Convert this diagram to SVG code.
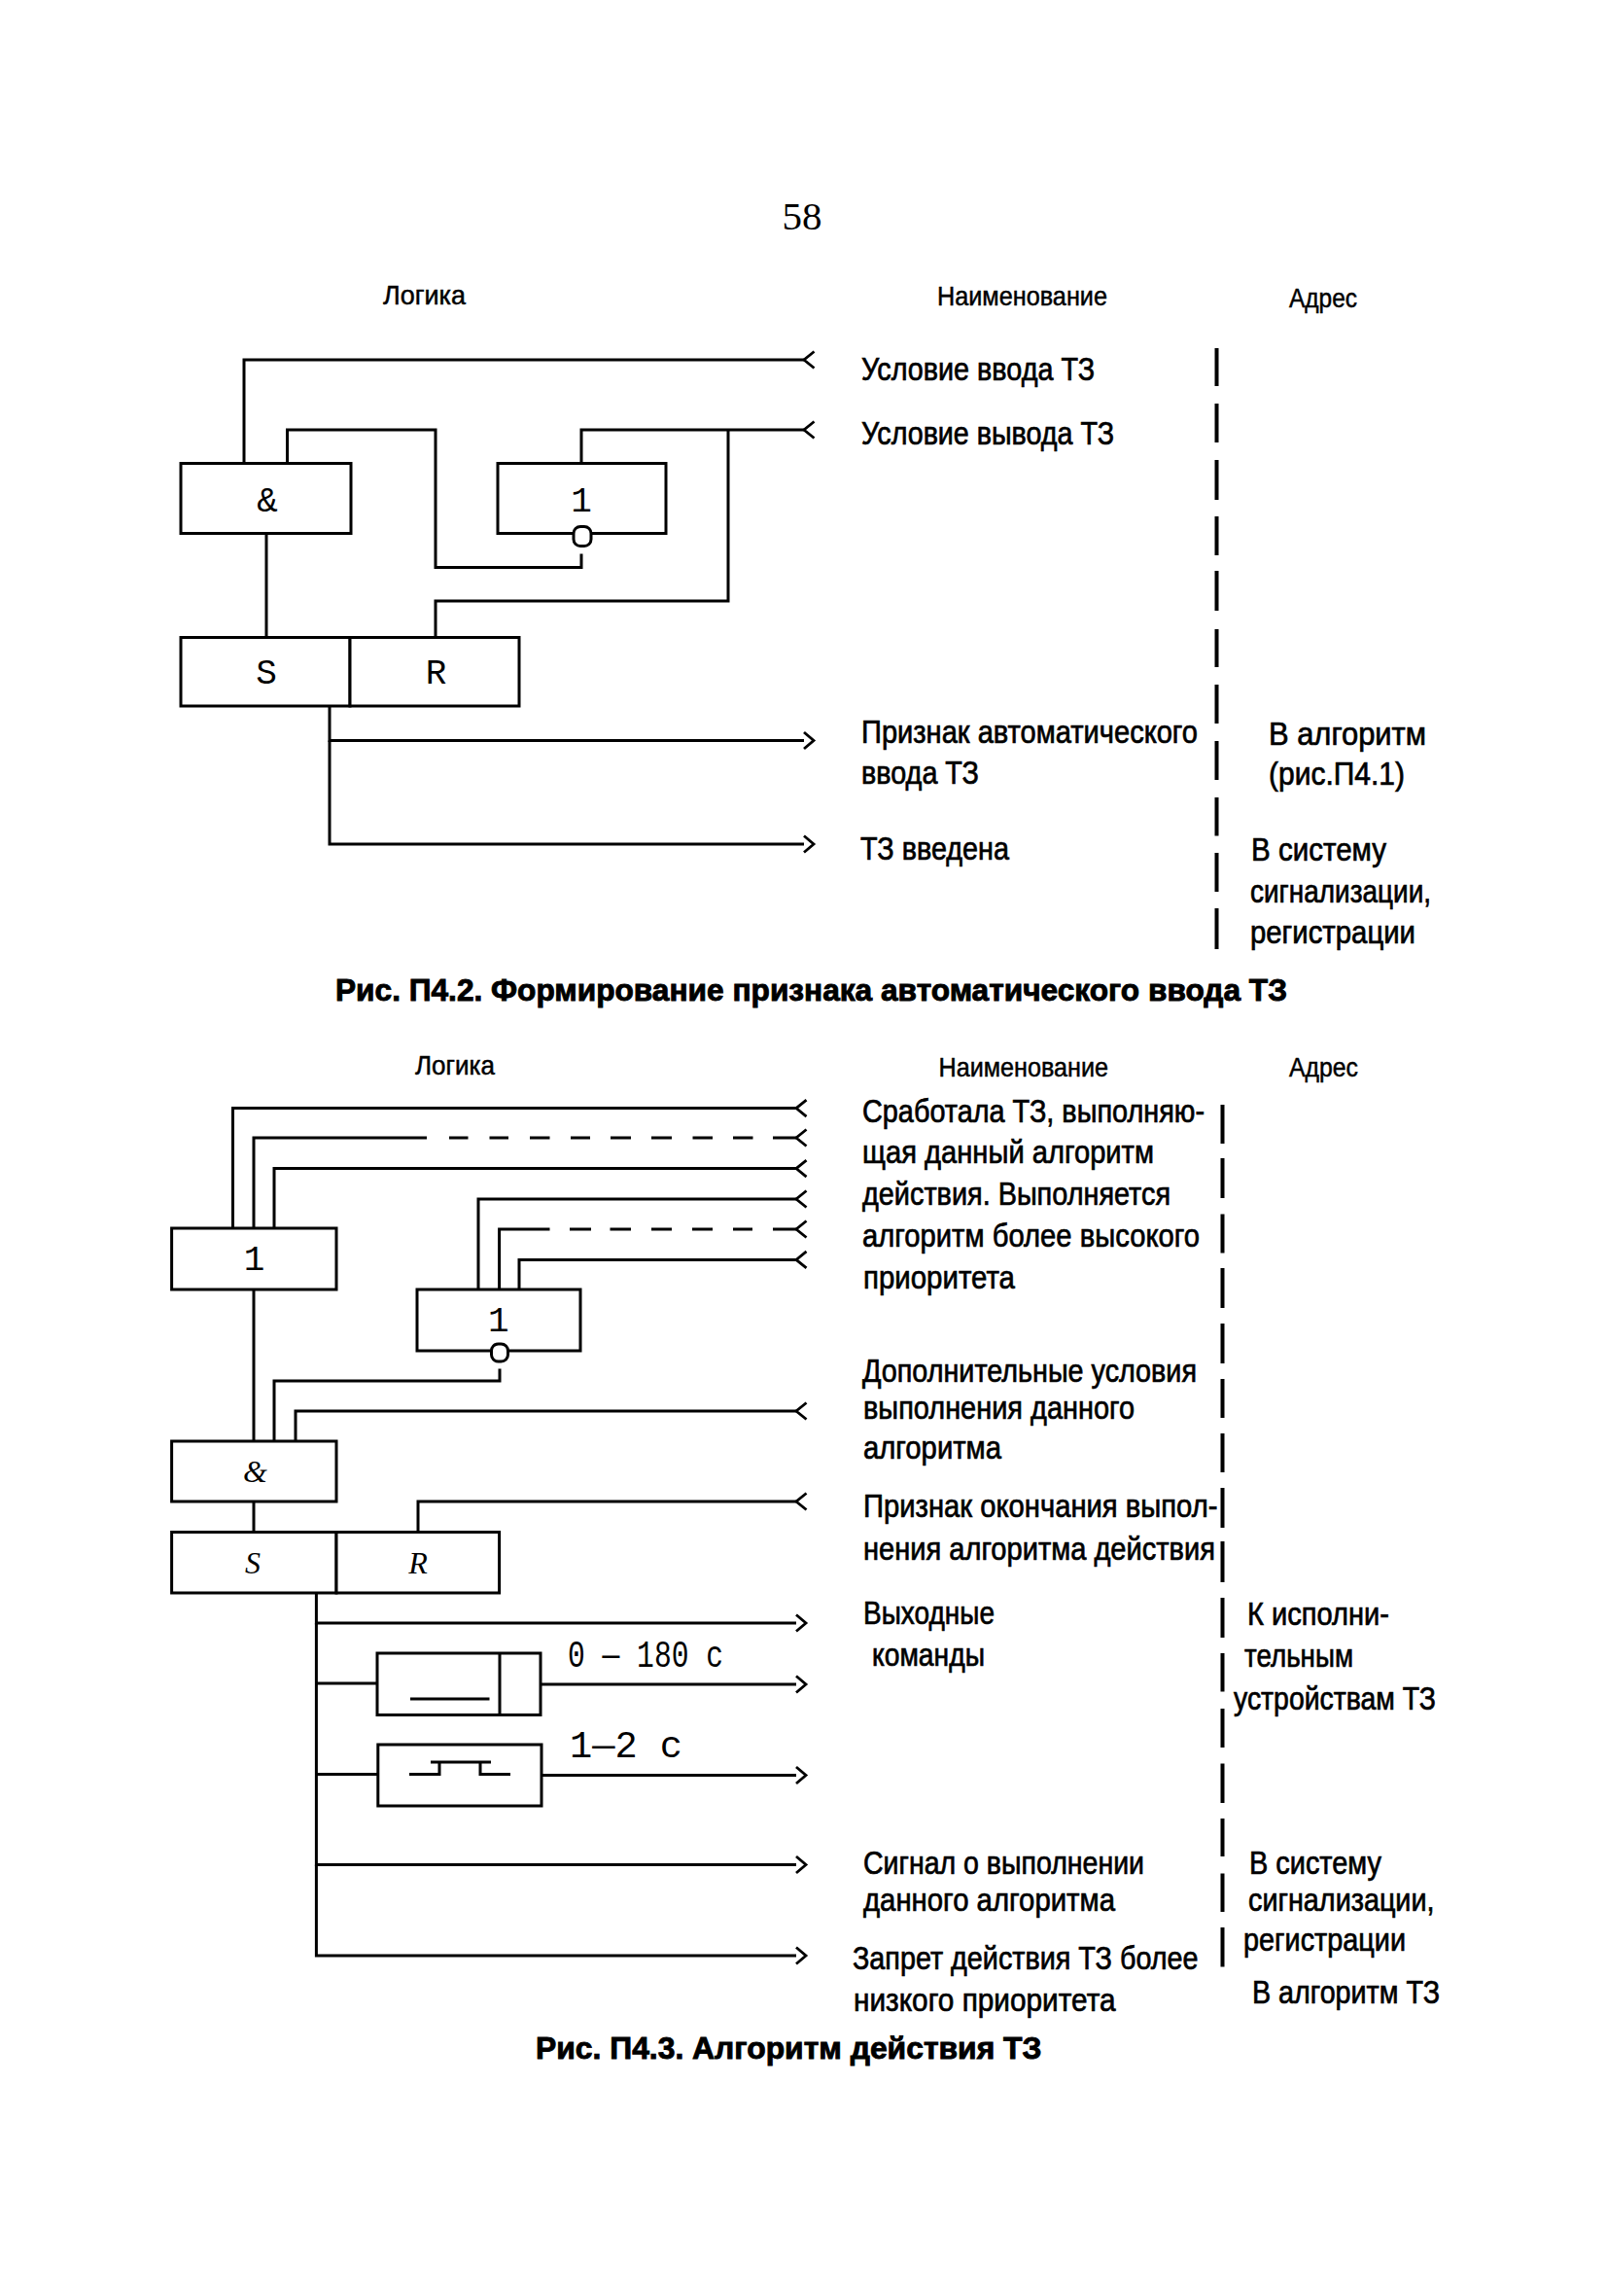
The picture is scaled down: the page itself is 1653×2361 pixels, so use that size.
<svg xmlns="http://www.w3.org/2000/svg" width="1653" height="2361" viewBox="0 0 1653 2361">
<style>
text{fill:#000;font-family:"Liberation Sans",Arial,sans-serif;font-size:33px;stroke:#000;stroke-width:.7px}
.h{font-size:28px;stroke-width:.5px}
.cap{font-weight:700;font-size:32px;stroke-width:.9px}
.pg{font-family:"Liberation Serif",serif;font-size:41px;stroke:none}
.m{font-family:"Liberation Mono",monospace;font-size:36px;text-anchor:middle;stroke:none}
.t{font-family:"Liberation Mono",monospace;font-size:38px;stroke:none}
.i{font-family:"Liberation Serif",serif;font-style:italic;font-size:32px;text-anchor:middle;stroke:none}
.b{fill:#fff;stroke:#000;stroke-width:3}
.l{fill:none;stroke:#000;stroke-width:3}
.in{marker-end:url(#in)}
.out{marker-end:url(#out)}
.v{fill:none;stroke:#000;stroke-width:4}
</style>
<defs>
<marker id="in" markerUnits="userSpaceOnUse" markerWidth="14" markerHeight="22" refX="1" refY="11" orient="auto"><path d="M11.500 2.500L1 11L11.500 19.500" fill="none" stroke="#000" stroke-width="2.800"/></marker>
<marker id="out" markerUnits="userSpaceOnUse" markerWidth="14" markerHeight="22" refX="1" refY="11" orient="auto"><path d="M1 2.500L11 11L1 19.500" fill="none" stroke="#000" stroke-width="2.800"/></marker>
</defs>
<rect width="1653" height="2361" fill="#fff"/>
<text class="pg" x="804.500" y="235.500" textLength="41">58</text>

<g id="connectors">
<g id="connectors-fig2">
<path class="l in" d="M251 476V370H827"/>
<path class="l" d="M295.500 476V442H448V583.500H598V569.500"/>
<path class="l in" d="M598 476V442H827"/>
<path class="l" d="M274 548V655.500"/>
<path class="l" d="M448 655.500V618H749V442"/>
<path class="l out" d="M339 726V761.500H827"/>
<path class="l out" d="M339 761.500V868H827"/>
</g>
<g id="connectors-fig3">
<path class="l in" d="M239.500 1263V1139.600H819"/>
<path class="l" d="M261 1263V1170H439"/>
<path class="l in" d="M462 1170H481.500M503.500 1170H523M545 1170H565.500M587 1170H607M628 1170H649M670 1170H691M712.500 1170H733M754 1170H774.500M795 1170H819"/>
<path class="l in" d="M282 1263V1201.600H819"/>
<path class="l in" d="M492 1326V1233H819"/>
<path class="l" d="M513.600 1326V1264H565.500"/>
<path class="l in" d="M586 1264H608M627.500 1264H649M670 1264H691M712 1264H733M754 1264H774M795 1264H819"/>
<path class="l in" d="M534 1326V1295.400H819"/>
<path class="l" d="M261 1326V1482"/>
<path class="l" d="M514 1407.500V1420H282V1482"/>
<path class="l in" d="M304 1482V1451H819"/>
<path class="l" d="M261 1544V1575.500"/>
<path class="l in" d="M430 1575.500V1544H819"/>
<path class="l out" d="M325.400 1638V1669H819"/>
<path class="l" d="M325.400 1731H388"/>
<path class="l out" d="M556 1732H819"/>
<path class="l" d="M325.400 1824.500H389"/>
<path class="l out" d="M557 1825.500H819"/>
<path class="l out" d="M325.400 1669V1917.500H819"/>
<path class="l out" d="M325.400 1917.500V2011H819"/>
</g>
</g>

<g id="fig2-and"><rect class="b" x="186" y="476.500" width="175" height="72"/><text class="m" x="275" y="526">&amp;</text></g>
<g id="fig2-or"><rect class="b" x="512" y="476.500" width="173" height="72"/><text class="m" x="598" y="526">1</text><rect class="b" x="590" y="541.500" width="18" height="20" rx="7"/></g>
<g id="fig2-s"><rect class="b" x="186" y="655.500" width="174" height="70.500"/><text class="m" x="274" y="703">S</text></g>
<g id="fig2-r"><rect class="b" x="360" y="655.500" width="174" height="70.500"/><text class="m" x="448.500" y="703">R</text></g>

<g id="fig3-or1"><rect class="b" x="176.600" y="1263" width="169.400" height="63"/><text class="m" x="261.500" y="1306">1</text></g>
<g id="fig3-or2"><rect class="b" x="429" y="1326" width="168" height="63"/><text class="m" x="512.700" y="1369">1</text><rect class="b" x="505.500" y="1382" width="17" height="18" rx="7"/></g>
<g id="fig3-and"><rect class="b" x="176.600" y="1482" width="169.400" height="62"/><text class="i" x="262.500" y="1524">&amp;</text></g>
<g id="fig3-s"><rect class="b" x="176.600" y="1575.500" width="169.400" height="62.500"/><text class="i" x="260" y="1617.500">S</text></g>
<g id="fig3-r"><rect class="b" x="346" y="1575.500" width="167.600" height="62.500"/><text class="i" x="430" y="1617.500">R</text></g>
<g id="fig3-delay"><rect class="b" x="388" y="1700" width="168" height="63.500"/><path class="l" d="M514 1700V1763.500M422 1747H503.500"/><text class="t" x="584" y="1713.500" textLength="160" lengthAdjust="spacingAndGlyphs">0 — 180 с</text></g>
<g id="fig3-pulse"><rect class="b" x="388.800" y="1794" width="168.200" height="63"/><path class="l" d="M421 1824.500H452V1812M443 1812H505M494 1812V1824.500H525"/><text class="t" x="586" y="1806.500" textLength="116" lengthAdjust="spacingAndGlyphs">1—2 с</text></g>

<g id="fig2-labels" transform="translate(0 -1)">
<text class="h" x="394" y="313.500" textLength="85" lengthAdjust="spacingAndGlyphs">Логика</text>
<text class="h" x="964" y="315" textLength="175" lengthAdjust="spacingAndGlyphs">Наименование</text>
<text class="h" x="1326" y="317" textLength="70" lengthAdjust="spacingAndGlyphs">Адрес</text>
<text x="886" y="392" textLength="240" lengthAdjust="spacingAndGlyphs">Условие ввода ТЗ</text>
<text x="886" y="458" textLength="260" lengthAdjust="spacingAndGlyphs">Условие вывода ТЗ</text>
<text x="886" y="765" textLength="346" lengthAdjust="spacingAndGlyphs">Признак автоматического</text>
<text x="886" y="807" textLength="121" lengthAdjust="spacingAndGlyphs">ввода ТЗ</text>
<text x="885" y="884.500" textLength="153" lengthAdjust="spacingAndGlyphs">ТЗ введена</text>
<text x="1305" y="766.500" textLength="162" lengthAdjust="spacingAndGlyphs">В  алгоритм</text>
<text x="1305" y="808" textLength="140" lengthAdjust="spacingAndGlyphs">(рис.П4.1)</text>
<text x="1287" y="886" textLength="139" lengthAdjust="spacingAndGlyphs">В систему</text>
<text x="1286" y="929" textLength="186" lengthAdjust="spacingAndGlyphs">сигнализации,</text>
<text x="1286" y="971" textLength="170" lengthAdjust="spacingAndGlyphs">регистрации</text>
<text class="cap" x="345" y="1030" textLength="979" lengthAdjust="spacingAndGlyphs">Рис. П4.2. Формирование признака автоматического ввода ТЗ</text>
</g>
<path id="fig2-column-rule" class="v" d="M1251.500 358V397M1251.500 415V455M1251.500 473V514M1251.500 531V571M1251.500 587V628M1251.500 647V686M1251.500 704V744M1251.500 762V802M1251.500 820V859.500M1251.500 877V917M1251.500 934V976"/>

<g id="fig3-labels" transform="translate(-1 0)">
<text class="h" x="428" y="1105" textLength="82" lengthAdjust="spacingAndGlyphs">Логика</text>
<text class="h" x="966.500" y="1106.500" textLength="174.500" lengthAdjust="spacingAndGlyphs">Наименование</text>
<text class="h" x="1327" y="1107" textLength="71" lengthAdjust="spacingAndGlyphs">Адрес</text>
<text x="888" y="1153.500" textLength="352" lengthAdjust="spacingAndGlyphs">Сработала ТЗ, выполняю-</text>
<text x="888" y="1196" textLength="300" lengthAdjust="spacingAndGlyphs">щая данный алгоритм</text>
<text x="888" y="1239" textLength="317" lengthAdjust="spacingAndGlyphs">действия. Выполняется</text>
<text x="888" y="1282" textLength="347" lengthAdjust="spacingAndGlyphs">алгоритм более высокого</text>
<text x="889" y="1325" textLength="156" lengthAdjust="spacingAndGlyphs">приоритета</text>
<text x="888" y="1421" textLength="344" lengthAdjust="spacingAndGlyphs">Дополнительные условия</text>
<text x="889" y="1459" textLength="279" lengthAdjust="spacingAndGlyphs">выполнения данного</text>
<text x="889" y="1500" textLength="142" lengthAdjust="spacingAndGlyphs">алгоритма</text>
<text x="889" y="1560" textLength="364.500" lengthAdjust="spacingAndGlyphs">Признак окончания выпол-</text>
<text x="889" y="1603.500" textLength="362" lengthAdjust="spacingAndGlyphs">нения алгоритма действия</text>
<text x="889" y="1670" textLength="135" lengthAdjust="spacingAndGlyphs">Выходные</text>
<text x="898" y="1713" textLength="116" lengthAdjust="spacingAndGlyphs">команды</text>
<text x="1284" y="1670.500" textLength="146" lengthAdjust="spacingAndGlyphs">К исполни-</text>
<text x="1281" y="1714" textLength="112" lengthAdjust="spacingAndGlyphs">тельным</text>
<text x="1270" y="1757.500" textLength="208" lengthAdjust="spacingAndGlyphs">устройствам ТЗ</text>
<text x="889" y="1927" textLength="289" lengthAdjust="spacingAndGlyphs">Сигнал о выполнении</text>
<text x="889" y="1965" textLength="259" lengthAdjust="spacingAndGlyphs">данного алгоритма</text>
<text x="878" y="2025" textLength="355.500" lengthAdjust="spacingAndGlyphs">Запрет действия ТЗ более</text>
<text x="879" y="2068" textLength="269.500" lengthAdjust="spacingAndGlyphs">низкого приоритета</text>
<text x="1286" y="1927" textLength="136" lengthAdjust="spacingAndGlyphs">В систему</text>
<text x="1285" y="1965" textLength="191.500" lengthAdjust="spacingAndGlyphs">сигнализации,</text>
<text x="1280" y="2006" textLength="167" lengthAdjust="spacingAndGlyphs">регистрации</text>
<text x="1289" y="2060" textLength="193" lengthAdjust="spacingAndGlyphs">В алгоритм ТЗ</text>
<text class="cap" x="552" y="2116.500" textLength="520.500" lengthAdjust="spacingAndGlyphs">Рис. П4.3. Алгоритм действия ТЗ</text>
</g>
<path id="fig3-column-rule" class="v" d="M1257.500 1136V1176M1257.500 1191V1232M1257.500 1248.600V1288.600M1257.500 1304V1345M1257.500 1361V1402M1257.500 1418V1458M1257.500 1474V1514M1257.500 1530V1571M1257.500 1585V1627M1257.500 1643V1684M1257.500 1700V1739.500M1257.500 1757V1797M1257.500 1813.500V1854M1257.500 1870V1909M1257.500 1926.400V1966M1257.500 1982V2022.500"/>
</svg>
